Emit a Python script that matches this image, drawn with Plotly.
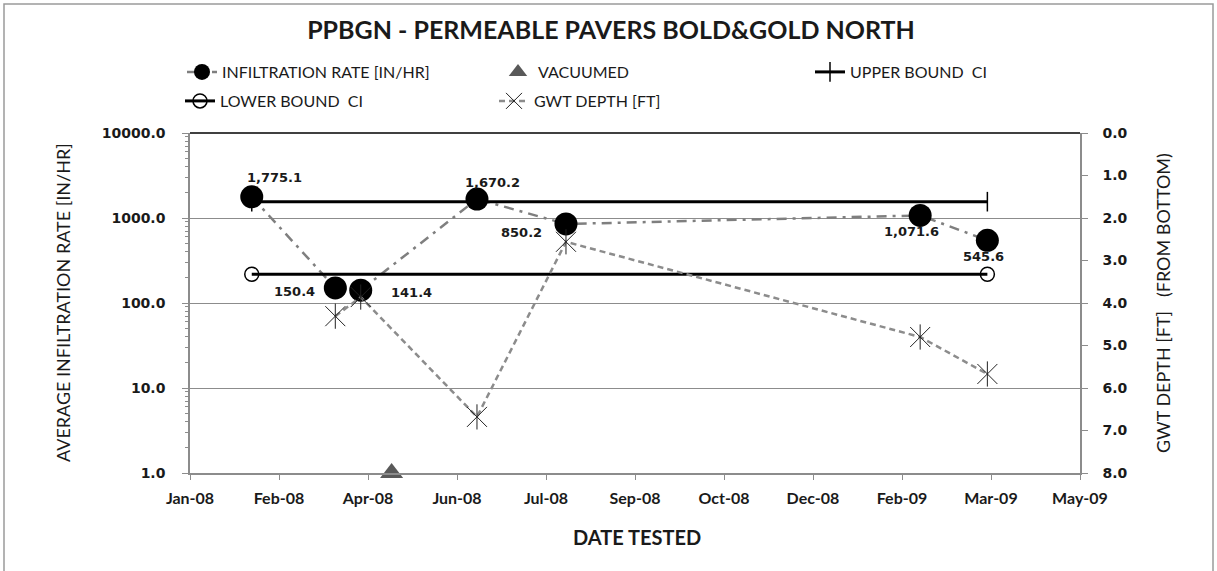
import math
import plotly.graph_objects as go

# ---------------- data ----------------
infil_dates = ["2008-02-11", "2008-03-28", "2008-04-11", "2008-06-14", "2008-08-02", "2009-02-13", "2009-03-22"]
infil_rate = [1775.1, 150.4, 141.4, 1670.2, 850.2, 1071.6, 545.6]
infil_labels = ["1,775.1", "150.4", "141.4", "1,670.2", "850.2", "1,071.6", "545.6"]

vac_dates = ["2008-04-28"]
vac_values = [1.0]

ci_dates = ["2008-02-11", "2009-03-22"]
upper_ci = [1556.0, 1556.0]
lower_ci = [218.0, 218.0]

gwt_dates = ["2008-03-28", "2008-04-11", "2008-06-14", "2008-08-02", "2009-02-13", "2009-03-22"]
gwt_depth = [4.31, 3.86, 6.68, 2.56, 4.80, 5.67]

tick_dates = ["2008-01-08", "2008-02-26", "2008-04-15", "2008-06-03", "2008-07-22", "2008-09-09",
              "2008-10-28", "2008-12-16", "2009-02-03", "2009-03-24", "2009-05-12"]
tick_labels = ["Jan-08", "Feb-08", "Apr-08", "Jun-08", "Jul-08", "Sep-08", "Oct-08", "Dec-08",
               "Feb-09", "Mar-09", "May-09"]

# label offsets (pixels) for data labels
label_dx = [23, -41, 51, 16, -44, -9, -4]
label_dy = [19, -4, -2, 17, -9, -16, -16]

# ---------------- layout geometry ----------------
W, H = 1217, 571
L, R, T, B = 190, 1080, 133, 473
pw, ph = R - L, B - T


def px_x(x):
    return (x - L) / pw


def px_y(y):
    return (B - y) / ph


LATO = "Lato"
DV = "DejaVu Sans"
GRAY = "#8c8c8c"
INK = "#1a1a1a"

fig = go.Figure()

# infiltration rate
fig.add_trace(go.Scatter(
    x=infil_dates, y=infil_rate, mode="lines+markers", name="INFILTRATION RATE [IN/HR]",
    line=dict(color="#7f7f7f", width=2.5, dash="10px,6px,3px,6px"),
    marker=dict(symbol="circle", size=23, color="black"),
    legend="legend",
))

# vacuumed
fig.add_trace(go.Scatter(
    x=vac_dates, y=vac_values, mode="markers", name="VACUUMED",
    marker=dict(symbol="triangle-up", size=20, color="#595959"),
    cliponaxis=False, legend="legend2",
))

# upper bound
fig.add_trace(go.Scatter(
    x=ci_dates, y=upper_ci, mode="lines+markers", name="UPPER BOUND  CI",
    line=dict(color="black", width=3),
    marker=dict(symbol="line-ns-open", size=14, color="black", line=dict(color="black", width=1.5)),
    legend="legend3",
))

# lower bound
fig.add_trace(go.Scatter(
    x=ci_dates, y=lower_ci, mode="lines+markers", name="LOWER BOUND  CI",
    line=dict(color="black", width=3),
    marker=dict(symbol="circle-open", size=14, color="black", line=dict(color="black", width=1.5)),
    legend="legend4",
))

# GWT depth
fig.add_trace(go.Scatter(
    x=gwt_dates, y=gwt_depth, mode="lines+markers", name="GWT DEPTH [FT]", yaxis="y2",
    line=dict(color=GRAY, width=2.5, dash="6px,4px"),
    marker=dict(symbol="x-thin-open", size=20, color="#222222", line=dict(color="#222222", width=1)),
    legend="legend5",
))
fig.add_trace(go.Scatter(
    x=gwt_dates, y=gwt_depth, mode="markers", yaxis="y2", showlegend=False, hoverinfo="skip",
    marker=dict(symbol="line-ns-open", size=18, color="#222222", line=dict(color="#222222", width=1)),
))

# data labels
for d, v, t, dx, dy in zip(infil_dates, infil_rate, infil_labels, label_dx, label_dy):
    fig.add_annotation(x=d, y=math.log10(v), yref="y", xref="x", text=t, showarrow=False,
                       xshift=dx, yshift=dy,
                       font=dict(family=DV, size=13, color=INK, weight="bold"))

legend_common = dict(orientation="h", bgcolor="rgba(0,0,0,0)", borderwidth=0,
                     font=dict(family=LATO, size=16, color=INK),
                     xanchor="left", yanchor="middle", itemwidth=30)

fig.update_layout(
    width=W, height=H,
    margin=dict(l=L, r=W - R, t=T, b=H - B),
    paper_bgcolor="white", plot_bgcolor="white",
    showlegend=True,
    title=dict(text="PPBGN - PERMEABLE PAVERS BOLD&GOLD NORTH", x=(285 + 937) / 2 / W, xanchor="center",
               y=1 - 30 / H, yanchor="middle",
               font=dict(family=LATO, size=25, color=INK, weight="bold")),
    legend=dict(x=px_x(182), y=px_y(72), **legend_common),
    legend2=dict(x=px_x(498), y=px_y(72), **legend_common),
    legend3=dict(x=px_x(810), y=px_y(72), **legend_common),
    legend4=dict(x=px_x(180), y=px_y(101), **legend_common),
    legend5=dict(x=px_x(494), y=px_y(101), **legend_common),
    xaxis=dict(type="date", range=[tick_dates[0], tick_dates[-1]],
               tickvals=tick_dates, ticktext=tick_labels,
               ticks="outside", ticklen=5, tickcolor=GRAY, ticklabelstandoff=5,
               showline=True, linecolor=GRAY, linewidth=1.5, showgrid=False, zeroline=False,
               tickfont=dict(family=LATO, size=16, color=INK, weight="bold")),
    yaxis=dict(type="log", range=[0, 4],
               tickvals=[1, 10, 100, 1000, 10000],
               ticktext=["1.0", "10.0", "100.0", "1000.0", "10000.0"],
               ticks="outside", ticklen=6, tickcolor=GRAY, ticklabelstandoff=14,
               minor=dict(ticks="outside", ticklen=3, tickcolor=GRAY, dtick="D1", showgrid=False),
               showline=True, linecolor=GRAY, linewidth=1.5,
               showgrid=True, gridcolor=GRAY, gridwidth=1, zeroline=False,
               tickfont=dict(family=DV, size=14, color=INK, weight="bold")),
    yaxis2=dict(overlaying="y", side="right", range=[8, 0],
                tickvals=[0, 1, 2, 3, 4, 5, 6, 7, 8], tickformat=".1f",
                ticks="outside", ticklen=6, tickcolor=GRAY, ticklabelstandoff=12,
                showline=True, linecolor=GRAY, linewidth=1.5, showgrid=False, zeroline=False,
                tickfont=dict(family=DV, size=14, color=INK, weight="bold")),
)

# top border of plot area
fig.add_shape(type="line", xref="paper", yref="paper", x0=0, x1=1, y0=1, y1=1,
              line=dict(color="black", width=1.5))
# outer frame
fig.add_shape(type="rect", xref="paper", yref="paper",
              x0=px_x(4), x1=px_x(1213), y0=px_y(4), y1=px_y(590),
              line=dict(color="#9a9a9a", width=1.5), layer="below")

# axis titles
fig.add_annotation(text="AVERAGE INFILTRATION RATE [IN/HR]", xref="paper", yref="paper",
                   x=px_x(63), y=px_y(303), xanchor="center", yanchor="middle",
                   textangle=-90, showarrow=False,
                   font=dict(family=LATO, size=18, color=INK))
fig.add_annotation(text="GWT DEPTH [FT]   (FROM BOTTOM)", xref="paper", yref="paper",
                   x=px_x(1163), y=px_y(303), xanchor="center", yanchor="middle",
                   textangle=-90, showarrow=False,
                   font=dict(family=LATO, size=18, color=INK))
fig.add_annotation(text="DATE TESTED", xref="paper", yref="paper",
                   x=px_x(637), y=px_y(537), xanchor="center", yanchor="middle", showarrow=False,
                   font=dict(family=LATO, size=20, color=INK, weight="bold"))

fig.write_html("out.html", post_script="document.body.style.margin='0';",
               config={"displayModeBar": False})
